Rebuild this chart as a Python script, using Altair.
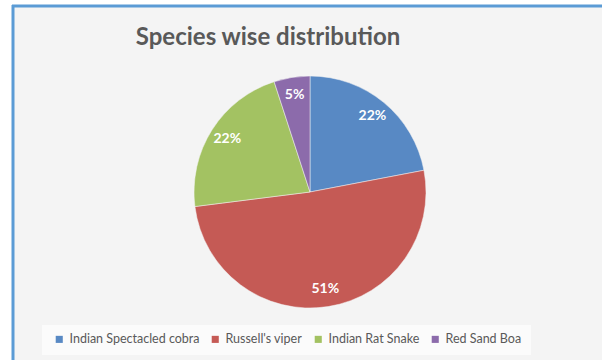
import altair as alt
import pandas as pd

species = ["Indian Spectacled cobra", "Russell's viper", "Indian Rat Snake", "Red Sand Boa"]
percent = [22, 51, 22, 5]
colors = ["#5889c4", "#c55a55", "#a3c262", "#8c6bab"]
title_text = "Species wise distribution"

df = pd.DataFrame({
    "species": species,
    "percent": percent,
    "idx": list(range(len(species))),
    "label": [f"{p}%" for p in percent],
})
one = pd.DataFrame({"a": [0]})

FONT = "Lato"
CX, CY, R = 310, 192, 116

bg = alt.Chart(one).mark_rect(fill="#f4f4f4").encode(
    x=alt.value(13), x2=alt.value(602), y=alt.value(6), y2=alt.value(360)
)
border_left = alt.Chart(one).mark_rule(color="#5b9bd5", strokeWidth=3).encode(
    x=alt.value(13), y=alt.value(5), y2=alt.value(360)
)
border_top = alt.Chart(one).mark_rule(color="#5b9bd5", strokeWidth=3).encode(
    x=alt.value(12), x2=alt.value(602), y=alt.value(6)
)
legend_box = alt.Chart(one).mark_rect(fill="#fbfbfb").encode(
    x=alt.value(42), x2=alt.value(531), y=alt.value(325), y2=alt.value(355)
)
title = alt.Chart(one).mark_text(
    text=title_text, font=FONT, fontSize=24, fontWeight="bold", color="#595959",
    baseline="alphabetic", align="center"
).encode(x=alt.value(268), y=alt.value(45))

base = alt.Chart(df)
pie = base.mark_arc(outerRadius=R, stroke="#f4f4f4", strokeWidth=0.5).encode(
    theta=alt.Theta("percent:Q", stack=True),
    order=alt.Order("idx:Q"),
    color=alt.Color(
        "species:N",
        scale=alt.Scale(domain=species, range=colors),
        legend=alt.Legend(
            title=None, orient="none", legendX=53, legendY=333,
            direction="horizontal", symbolType="square", symbolSize=50,
            symbolStrokeWidth=0, labelFont=FONT, labelFontSize=12.5,
            labelColor="#595959", columnPadding=9, labelOffset=4,
        ),
    ),
    x=alt.value(CX), y=alt.value(CY),
)
labels = base.mark_text(
    radius=98, font=FONT, fontSize=14, fontWeight="bold", color="white"
).encode(
    theta=alt.Theta("percent:Q", stack=True),
    order=alt.Order("idx:Q"),
    text="label:N",
    x=alt.value(CX), y=alt.value(CY),
)

chart = alt.layer(bg, border_left, border_top, legend_box, title, pie, labels).properties(
    width=602, height=360, padding=0, autosize=alt.AutoSizeParams(type="none"),
    background="white",
).configure_view(stroke=None)

chart.save("out.html", embed_options={"renderer": "svg", "actions": False})
